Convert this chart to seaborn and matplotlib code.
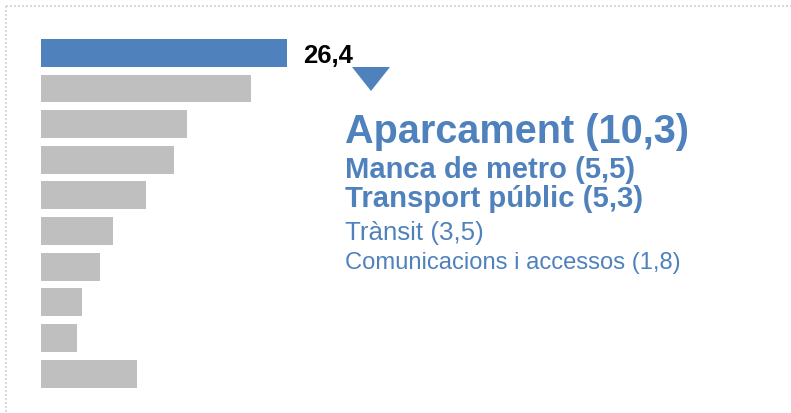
import matplotlib
matplotlib.use("Agg")
import matplotlib.pyplot as plt
from matplotlib.patches import Polygon
from matplotlib.lines import Line2D
import seaborn as sns
import pandas as pd

# Share of responses per problem; the first bar is broken down on the right
values = [26.4, 22.5, 15.7, 14.3, 11.3, 7.7, 6.3, 4.4, 3.9, 10.3]
ranks = [f"p{i}" for i in range(1, len(values) + 1)]
highlight = 0

breakdown_labels = ["Aparcament", "Manca de metro", "Transport públic",
                    "Trànsit", "Comunicacions i accessos"]
breakdown_values = [10.3, 5.5, 5.3, 3.5, 1.8]

BLUE = "#4F81BD"
GREY = "#BFBFBF"
BORDER = "#D9D9D9"

sns.set_theme(style="white")
plt.rcParams["font.family"] = ["Liberation Sans", "DejaVu Sans"]

W, H = 791, 414
fig = plt.figure(figsize=(W / 100, H / 100), dpi=100)


def fx(x):
    return x / W


def fy(y):
    return 1 - y / H


def fmt(v):
    return f"{v:.1f}".replace(".", ",")


# bar panel, in pixel geometry
px_per_unit = 246 / 26.4
ax_left, ax_right = 41, 781
ax_top, ax_bottom = 36.0, 392.6
ax = fig.add_axes([fx(ax_left), fy(ax_bottom),
                   (ax_right - ax_left) / W, (ax_bottom - ax_top) / H])

df = pd.DataFrame({"rank": ranks, "value": values})
colors = {r: (BLUE if i == highlight else GREY) for i, r in enumerate(ranks)}
sns.barplot(data=df, x="value", y="rank", hue="rank", palette=colors,
            order=ranks, width=0.784, legend=False, saturation=1,
            linewidth=0, ax=ax)
ax.set_xlim(0, (ax_right - ax_left) / px_per_unit)
ax.set_ylim(len(values) - 0.5, -0.5)
ax.axis("off")

# value label of the highlighted bar
ax.annotate(fmt(values[highlight]), xy=(values[highlight], highlight),
            xytext=(16 * 0.72, -9 * 0.72), textcoords="offset points",
            ha="left", va="baseline", fontsize=18.5, fontweight="bold",
            color="black")

# pointer triangle
fig.patches.append(Polygon([(fx(352), fy(68)), (fx(390), fy(68)), (fx(371), fy(92))],
                           closed=True, facecolor=BLUE, edgecolor="none",
                           transform=fig.transFigure))

# breakdown of the highlighted bar
styles = [(143, 28.5, "bold"), (178, 21.0, "bold"), (207.5, 21.1, "bold"),
          (240, 18.6, "normal"), (268.5, 17.1, "normal")]
for (label, v), (base, size, weight) in zip(zip(breakdown_labels, breakdown_values), styles):
    fig.text(fx(345), fy(base), f"{label} ({fmt(v)})", ha="left", va="baseline",
             fontsize=size, fontweight=weight, color=BLUE)

# dotted frame
for xs, ys in [([fx(6.5), 1], [fy(6.5), fy(6.5)]), ([fx(6.5), fx(6.5)], [fy(6.5), 0])]:
    fig.lines.append(Line2D(xs, ys, transform=fig.transFigure, color=BORDER,
                            linewidth=1.44, linestyle=(0, (1, 1)),
                            dash_capstyle="butt"))

fig.savefig("out.png", dpi=100)
